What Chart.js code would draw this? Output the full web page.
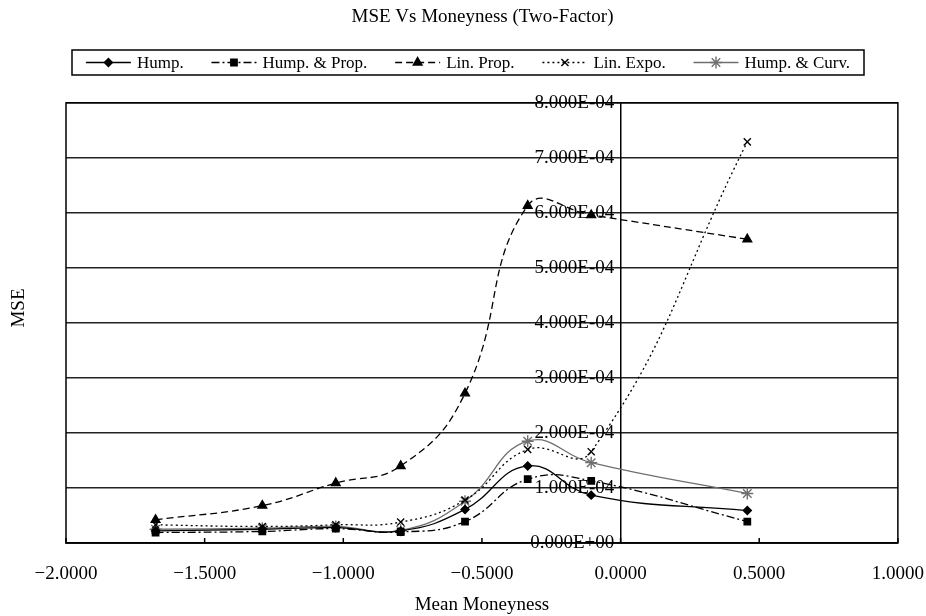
<!doctype html>
<html>
<head>
	<title>MSE Vs Moneyness</title>
	<script src="https://cdn.jsdelivr.net/npm/chart.js@4.4.0/dist/chart.umd.min.js"></script>
	<style>
		body { margin: 0; background: #fff; }
	</style>
</head>
<body>
	<canvas id="canvas" width="926" height="616"></canvas>
	<script>
		// mean moneyness of each bucket
		var moneyness = [-1.677, -1.292, -1.027, -0.793, -0.561, -0.335, -0.106, 0.457];

		var hump       = [2.2e-5, 2.5e-5, 2.8e-5, 2.2e-5, 6.1e-5, 1.40e-4, 8.7e-5, 5.9e-5];
		var humpProp   = [1.9e-5, 2.1e-5, 2.6e-5, 2.0e-5, 3.9e-5, 1.16e-4, 1.13e-4, 3.9e-5];
		var linProp    = [4.2e-5, 6.8e-5, 1.09e-4, 1.40e-4, 2.72e-4, 6.13e-4, 5.96e-4, 5.52e-4];
		var linExpo    = [3.3e-5, 3.0e-5, 3.3e-5, 3.8e-5, 7.8e-5, 1.70e-4, 1.66e-4, 7.29e-4];
		var humpCurv   = [2.5e-5, 2.7e-5, 3.0e-5, 2.3e-5, 7.6e-5, 1.85e-4, 1.46e-4, 9.0e-5];

		var xTicks = [-2.0, -1.5, -1.0, -0.5, 0.0, 0.5, 1.0];
		var yTicks = [0, 1e-4, 2e-4, 3e-4, 4e-4, 5e-4, 6e-4, 7e-4, 8e-4];

		var FONT = '"Liberation Serif", "Times New Roman", serif';
		Chart.defaults.font.family = FONT;
		Chart.defaults.color = '#000';

		function pts(ys) {
			return ys.map(function (y, i) { return { x: moneyness[i], y: y }; });
		}

		// 8.000E-04 style, trailing space keeps the label off the axis line
		function sci(v) {
			var parts = Number(v).toExponential(3).split('e');
			var n = parseInt(parts[1], 10);
			return parts[0] + 'E' + (n < 0 ? '-' : '+') + String(Math.abs(n)).padStart(2, '0') + '\u2004';
		}

		function series(label, ys, color, dash, style, radius) {
			return {
				label: label,
				data: pts(ys),
				showLine: true,
				borderColor: color,
				backgroundColor: color,
				borderWidth: 1.3,
				borderDash: dash,
				tension: 0.45,
				pointStyle: style,
				pointRadius: radius,
				pointBorderWidth: 1.4,
				pointBackgroundColor: color,
				pointBorderColor: color
			};
		}

		var GRAY = '#6f6f6f';

		// frame, inner x ticks, y title and legend
		var extras = {
			id: 'extras',
			beforeDatasetsDraw: function (chart) {
				var ctx = chart.ctx, a = chart.chartArea, sx = chart.scales.x;
				ctx.save();
				ctx.strokeStyle = '#000';
				ctx.lineWidth = 1.5;
				ctx.strokeRect(a.left, a.top, a.right - a.left, a.bottom - a.top);
				ctx.beginPath();
				xTicks.forEach(function (v) {
					var px = sx.getPixelForValue(v);
					ctx.moveTo(px, a.bottom);
					ctx.lineTo(px, a.bottom - 5);
				});
				ctx.stroke();
				ctx.restore();
			},
			afterDraw: function (chart) {
				var ctx = chart.ctx;
				ctx.save();
				ctx.fillStyle = '#000';
				ctx.font = '19px ' + FONT;
				ctx.translate(19, 308);
				ctx.rotate(-Math.PI / 2);
				ctx.textAlign = 'center';
				ctx.textBaseline = 'middle';
				ctx.fillText('MSE', 0, 0);
				ctx.restore();

				// legend
				var box = { left: 72, right: 864, top: 50, bottom: 75 };
				var cy = (box.top + box.bottom) / 2;
				ctx.save();
				ctx.strokeStyle = '#000';
				ctx.lineWidth = 1.5;
				ctx.strokeRect(box.left, box.top, box.right - box.left, box.bottom - box.top);
				ctx.font = '17px ' + FONT;
				var sw = 45, gap = 6;
				var ds = chart.data.datasets;
				var widths = ds.map(function (d) { return sw + gap + ctx.measureText(d.label).width; });
				var total = widths.reduce(function (s, w) { return s + w; }, 0);
				var space = (box.right - box.left - total) / ds.length;
				var x = box.left + space / 2;
				ds.forEach(function (d, i) {
					ctx.save();
					ctx.strokeStyle = d.borderColor;
					ctx.lineWidth = d.borderWidth;
					ctx.setLineDash(d.borderDash || []);
					ctx.beginPath();
					ctx.moveTo(x, cy);
					ctx.lineTo(x + sw, cy);
					ctx.stroke();
					ctx.setLineDash([]);
					ctx.fillStyle = d.pointBackgroundColor;
					ctx.strokeStyle = d.pointBorderColor;
					ctx.lineWidth = d.pointBorderWidth;
					Chart.helpers.drawPoint(ctx, { pointStyle: d.pointStyle, radius: d.pointRadius, rotation: 0, borderWidth: d.pointBorderWidth }, x + sw / 2, cy);
					ctx.restore();
					ctx.fillStyle = '#000';
					ctx.textAlign = 'left';
					ctx.textBaseline = 'middle';
					ctx.fillText(d.label, x + sw + gap, cy + 1);
					x += widths[i] + space;
				});
				ctx.restore();
			}
		};

		var config = {
			type: 'scatter',
			data: {
				datasets: [
					series('Hump.', hump, '#000', [], 'rectRot', 4),
					series('Hump. & Prop.', humpProp, '#000', [8, 3, 2, 3], 'rect', 4.5),
					series('Lin. Prop.', linProp, '#000', [7, 4], 'triangle', 5),
					series('Lin. Expo.', linExpo, '#000', [2, 3], 'crossRot', 5),
					series('Hump. & Curv.', humpCurv, GRAY, [], 'star', 6)
				]
			},
			options: {
				responsive: false,
				animation: false,
				layout: { padding: { left: 66, right: 27, top: 0, bottom: 0 } },
				plugins: {
					legend: { display: false },
					tooltip: { enabled: false },
					title: {
						display: true,
						text: 'MSE Vs Moneyness (Two-Factor)',
						font: { size: 19, weight: 'normal', lineHeight: 1.2 },
						color: '#000',
						padding: { top: 6, bottom: 74 }
					}
				},
				scales: {
					x: {
						type: 'linear',
						min: -2,
						max: 1,
						afterBuildTicks: function (s) { s.ticks = xTicks.map(function (v) { return { value: v }; }); },
						afterFit: function (s) { s.height = 73; },
						grid: { drawOnChartArea: false, drawTicks: true, tickLength: 18, tickColor: 'rgba(0,0,0,0)' },
						border: { display: true, color: '#000', width: 1.5 },
						ticks: {
							padding: 2,
							maxRotation: 0,
							font: { size: 19 },
							color: '#000',
							callback: function (v) { return (v < 0 ? '\u2212' : '') + Math.abs(v).toFixed(4); }
						},
						title: {
							display: true,
							text: 'Mean Moneyness',
							font: { size: 19 },
							color: '#000',
							padding: { top: 0, bottom: 0 }
						}
					},
					y: {
						type: 'linear',
						position: { x: 0 },
						min: 0,
						max: 8e-4,
						afterBuildTicks: function (s) { s.ticks = yTicks.map(function (v) { return { value: v }; }); },
						grid: { color: '#222', lineWidth: 1.5, drawTicks: false },
						border: { display: true, color: '#000', width: 1.5 },
						ticks: { padding: 8, font: { size: 19 }, color: '#000', callback: sci }
					}
				}
			},
			plugins: [extras]
		};

		window.onload = function () {
			var ctx = document.getElementById('canvas').getContext('2d');
			window.myChart = new Chart(ctx, config);
		};
	</script>
</body>
</html>
